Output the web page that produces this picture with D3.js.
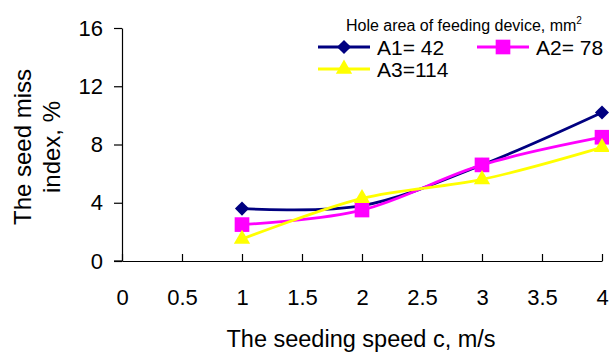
<!DOCTYPE html>
<html lang="en">
    <head>
        <meta charset="utf-8">
        <title>Seed miss index</title>
        <script src="https://cdn.jsdelivr.net/npm/d3@7"></script>
        <style>
            body { margin: 0; background: #fff; }
            text { font-family: "Liberation Sans", Arial, sans-serif; fill: #000; }
        </style>
    </head>
    <body>
        <script>
            // data
            var speeds = [1, 2, 3, 4];
            var a1 = [3.6, 3.8, 6.6, 10.2];
            var a2 = [2.5, 3.5, 6.6, 8.5];
            var a3 = [1.5, 4.3, 5.6, 7.8];
            var seriesNames = ["A1= 42", "A2= 78", "A3=114"];
            var seriesColors = ["#000080", "#ff00ff", "#ffff00"];
            var xTicks = [0, 0.5, 1, 1.5, 2, 2.5, 3, 3.5, 4];
            var yTicks = [0, 4, 8, 12, 16];

            var w = 609, h = 354;
            // plot box (window.top is taken, so prefix names)
            var pLeft = 122, pRight = 602, pTop = 28, pBottom = 261;

            var svg = d3.select("body").append("svg")
                .attr("width", w)
                .attr("height", h);

            var x = d3.scaleLinear().domain([0, 4]).range([pLeft, pRight]);
            var y = d3.scaleLinear().domain([0, 16]).range([pBottom, pTop]);

            // y axis, ticks outside
            var yAxis = svg.append("g")
                .attr("transform", "translate(" + pLeft + ",0)")
                .call(d3.axisLeft(y).tickValues(yTicks).tickSize(8).tickPadding(11).tickSizeOuter(0));
            yAxis.selectAll("text").attr("font-size", "22px");

            // x axis, ticks pointing up into the plot
            var xAxis = svg.append("g")
                .attr("transform", "translate(0," + pBottom + ")")
                .call(d3.axisBottom(x).tickValues(xTicks).tickFormat(function(d) { return String(d); })
                    .tickSize(-7).tickPadding(0).tickSizeOuter(0));
            xAxis.selectAll("text").attr("font-size", "22px").attr("y", 44).attr("dy", null);

            svg.selectAll(".domain, .tick line").attr("stroke", "#000").attr("stroke-width", 1.2);
            // extend x axis line under the left y tick
            svg.append("line")
                .attr("x1", pLeft - 8).attr("x2", pLeft)
                .attr("y1", pBottom).attr("y2", pBottom)
                .attr("stroke", "#000").attr("stroke-width", 1.2);

            // axis titles
            svg.append("text")
                .attr("x", 361).attr("y", 347)
                .attr("text-anchor", "middle")
                .attr("font-size", "23.5px")
                .text("The seeding speed c, m/s");

            var yTitle = svg.append("text")
                .attr("transform", "translate(31,147) rotate(-90)")
                .attr("text-anchor", "middle")
                .attr("font-size", "24px");
            yTitle.append("tspan").attr("x", 0).attr("y", 0).text("The seed miss");
            yTitle.append("tspan").attr("x", 0).attr("y", 29).text("index, %");

            // lines and markers
            var allSeries = [a1, a2, a3];
            var line = d3.line()
                .x(function(d, i) { return x(speeds[i]); })
                .y(function(d) { return y(d); })
                .curve(d3.curveCatmullRom.alpha(0));

            // diamond = square turned 45 degrees, as in the picture
            var markers = [
                { type: d3.symbolSquare, size: 100, rot: 45 },
                { type: d3.symbolSquare, size: 215, rot: 0 },
                { type: d3.symbolTriangle, size: 115, rot: 0 }
            ];
            function markerAt(cx, cy, s) {
                return "translate(" + cx + "," + cy + ") rotate(" + markers[s].rot + ")";
            }

            allSeries.forEach(function(vals, s) {
                svg.append("path")
                    .attr("d", line(vals))
                    .attr("fill", "none")
                    .attr("stroke", seriesColors[s])
                    .attr("stroke-width", 2.8);
            });
            allSeries.forEach(function(vals, s) {
                svg.selectAll(".m" + s)
                    .data(vals)
                    .enter()
                    .append("path")
                    .attr("class", "m" + s)
                    .attr("d", d3.symbol().type(markers[s].type).size(markers[s].size))
                    .attr("transform", function(d, i) {
                        return markerAt(x(speeds[i]), y(d), s);
                    })
                    .attr("fill", seriesColors[s]);
            });

            // legend
            var legTitle = svg.append("text")
                .attr("x", 346).attr("y", 31)
                .attr("font-size", "16px");
            legTitle.append("tspan").text("Hole area of feeding device, mm");
            legTitle.append("tspan").attr("font-size", "10px").attr("dy", -7).text("2");

            var legPos = [[318, 47], [477, 47], [318, 69]];
            legPos.forEach(function(p, s) {
                var g = svg.append("g").attr("transform", "translate(" + p[0] + "," + p[1] + ")");
                g.append("line")
                    .attr("x1", 0).attr("x2", 52)
                    .attr("stroke", seriesColors[s])
                    .attr("stroke-width", 2.8);
                g.append("path")
                    .attr("d", d3.symbol().type(markers[s].type).size(markers[s].size))
                    .attr("transform", markerAt(26, 0, s))
                    .attr("fill", seriesColors[s]);
                g.append("text")
                    .attr("x", 59).attr("y", 8)
                    .attr("font-size", "21px")
                    .text(seriesNames[s]);
            });
        </script>
    </body>
</html>
